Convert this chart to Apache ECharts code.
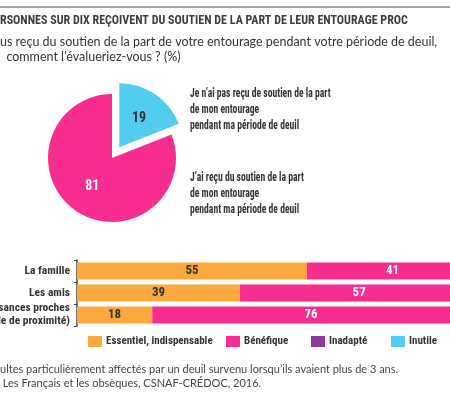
<!DOCTYPE html>
<html><head><meta charset="utf-8">
<script src="https://cdn.jsdelivr.net/npm/echarts@6/dist/echarts.min.js"></script>
<style>html,body{margin:0;padding:0;background:#fff}#c{width:450px;height:399px}</style>
</head><body><div id="c"></div>
<script>
const titleText = "RSONNES SUR DIX REÇOIVENT DU SOUTIEN DE LA PART DE LEUR ENTOURAGE PROC";
const subtitleLines = ["us reçu du soutien de la part de votre entourage pendant votre période de deuil,", "  comment l’évalueriez-vous ? (%)"];
const footLines = ["ultes particulièrement affectés par un deuil survenu lorsqu’ils avaient plus de 3 ans.", " Les Français et les obsèques, CSNAF-CRÉDOC, 2016."];

const pieNames = ["Je n’ai pas reçu de soutien de la part\nde mon entourage\npendant ma période de deuil", "J’ai reçu du soutien de la part\nde mon entourage\npendant ma période de deuil"];
const pieValues = [19, 81];

const categories = ["La famille", "Les amis", "naissances proches\nvole de proximité)"];
const seriesNames = ["Essentiel, indispensable", "Bénéfique", "Inadapté", "Inutile"];
const essentiel = [55, 39, 18];
const benefique = [41, 57, 76];
const inadapte = [1, 1, 1];
const inutile = [3, 3, 5];

const COND = "'Roboto Condensed','Open Sans Condensed',sans-serif";
const REG = "'Lato','Liberation Sans',sans-serif";
const colors = ["#FBA83E", "#F72E8F", "#8E3A9B", "#52CDF0"];
const barData = [essentiel, benefique, inadapte, inutile];

const chart = echarts.init(document.getElementById('c'), null, {renderer: 'canvas'});
const legendLefts = [88, 226, 311, 391];

chart.setOption({
  animation: false,
  title: [
    {text: titleText, left: 0, top: 15, padding: 0, textStyle: {fontFamily: COND, fontWeight: 'bold', fontSize: 12, color: '#3d3d3d'}},
    {text: subtitleLines.join('\n'), left: 0, top: 34, padding: 0, textStyle: {fontFamily: REG, fontWeight: 'normal', fontSize: 12.5, color: '#333', lineHeight: 15}},
    {text: footLines.join('\n'), left: 0, top: 362, padding: 0, textStyle: {fontFamily: REG, fontWeight: 'normal', fontSize: 11, color: '#444', lineHeight: 14}}
  ],
  graphic: [
    {type: 'line', shape: {x1: 0, y1: 7, x2: 450, y2: 7}, style: {stroke: '#8a8a8a', lineWidth: 1.5}},
    {type: 'text', x: 190, y: 86, scaleX: 0.74, style: {text: pieNames[0], font: "bold 13px " + COND, fill: '#333', lineHeight: 16, verticalAlign: 'top', align: 'left'}},
    {type: 'text', x: 190, y: 170, scaleX: 0.74, style: {text: pieNames[1], font: "bold 13px " + COND, fill: '#333', lineHeight: 16, verticalAlign: 'top', align: 'left'}}
  ],
  legend: seriesNames.map((n, i) => ({
    data: [n], left: legendLefts[i], top: 336, padding: 0, itemWidth: 14, itemHeight: 11, itemGap: 4,
    icon: 'rect', textStyle: {fontFamily: COND, fontWeight: 'bold', fontSize: 11, color: '#333', padding: [0, 0, 0, -1]},
    selectedMode: false
  })),
  grid: {left: 77, right: -45, top: 260, height: 66, containLabel: false, outerBoundsMode: 'none'},
  xAxis: {type: 'value', min: 0, max: 100, show: false},
  yAxis: {
    type: 'category', data: categories, inverse: true,
    axisLine: {show: true, lineStyle: {color: '#444', width: 1.5}},
    axisTick: {show: true, length: 3, lineStyle: {color: '#444'}},
    axisLabel: {fontFamily: COND, fontWeight: 'bold', fontSize: 11.5, color: '#333', margin: 7, lineHeight: 13}
  },
  series: [
    {
      type: 'pie', center: [112, 158], radius: [0, 64], startAngle: 90, clockwise: true,
      selectedMode: 'single', selectedOffset: 13, legendHoverLink: false,
      label: {show: true, position: 'inner', fontFamily: COND, fontWeight: 'bold', fontSize: 14, formatter: '{c}'},
      labelLine: {show: false},
      data: pieValues.map((v, i) => ({
        value: v, name: pieNames[i], selected: i === 0,
        itemStyle: {color: i === 0 ? colors[3] : colors[1]},
        label: {color: i === 0 ? '#333' : '#fff'}
      }))
    },
    ...seriesNames.map((n, i) => ({
      type: 'bar', name: n, stack: 'all', barWidth: 17, data: barData[i],
      itemStyle: {color: colors[i]},
      label: {show: i < 2, position: 'inside', fontFamily: COND, fontWeight: 'bold', fontSize: 13, color: i === 0 ? '#333' : '#fff'}
    }))
  ]
});
</script></body></html>
